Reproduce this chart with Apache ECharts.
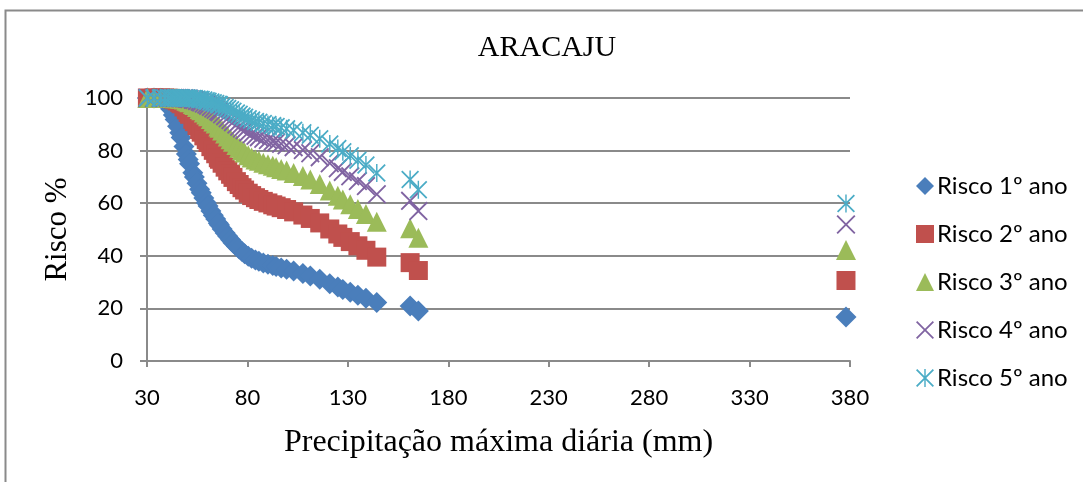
<!DOCTYPE html>
<html>
<head>
<meta charset="utf-8">
<script src="https://cdn.jsdelivr.net/npm/echarts@6/dist/echarts.min.js"></script>
<style>
  html, body { margin: 0; padding: 0; background: #fff; }
  #chart { width: 1083px; height: 482px; }
</style>
</head>
<body>
<div id="chart"></div>
<script>
// Maximum daily precipitation (mm) and the associated risk (%) for 1 to 5 years
const precip = [30.2, 33.5, 36.8, 38.9, 40.6, 41.8, 43.1, 44.0, 45.2, 46.3, 47.0, 48.4, 49.6, 50.5, 51.2, 52.8, 53.6, 54.9, 56.2, 57.0,
  58.3, 59.5, 60.4, 61.8, 63.0, 64.2, 65.5, 66.1, 67.4, 68.9, 70.2, 71.6, 72.8, 74.5, 75.9, 77.3, 78.6, 80.4, 82.1, 84.0,
  85.7, 87.9, 90.2, 92.6, 94.3, 96.8, 99.5, 103.0, 107.6, 111.3, 116.0, 121.0, 125.0, 127.5, 131.2, 135.0, 139.0, 144.4, 161.0, 165.1, 378.0];

const risco1 = [100, 100, 99.9, 99.4, 97.5, 95.8, 93.5, 91.8, 89.3, 86.8, 85.0, 81.6, 78.7, 76.6, 75.0, 71.6, 70.0, 67.6, 65.3, 64.0,
  62.0, 60.2, 58.9, 57.0, 55.4, 54.0, 52.4, 51.7, 50.2, 48.7, 47.4, 46.1, 45.0, 43.6, 42.6, 41.6, 40.8, 39.8, 39.1, 38.4,
  37.9, 37.3, 36.8, 36.3, 35.9, 35.4, 34.9, 34.2, 33.3, 32.3, 31.1, 29.4, 28.1, 27.2, 26.1, 25.0, 23.9, 22.2, 20.9, 19.0, 16.7];

const risco2 = [100, 100, 100, 100, 99.9, 99.8, 99.6, 99.3, 98.9, 98.3, 97.8, 96.6, 95.5, 94.5, 93.8, 91.9, 91.0, 89.5, 88.0, 87.0,
  85.6, 84.2, 83.1, 81.5, 80.1, 78.8, 77.3, 76.7, 75.2, 73.7, 72.3, 71.0, 69.8, 68.2, 67.1, 65.9, 65.0, 63.8, 62.9, 62.1,
  61.4, 60.7, 60.1, 59.4, 58.9, 58.3, 57.6, 56.7, 55.5, 54.2, 52.5, 50.2, 48.3, 47.0, 45.4, 43.8, 42.1, 39.5, 37.4, 34.4, 30.6];

const risco3 = [100, 100, 100, 100, 100, 100, 100, 99.9, 99.9, 99.8, 99.7, 99.4, 99.0, 98.7, 98.4, 97.7, 97.3, 96.6, 95.8, 95.3,
  94.5, 93.7, 93.1, 92.0, 91.1, 90.3, 89.2, 88.7, 87.6, 86.5, 85.4, 84.3, 83.4, 82.1, 81.1, 80.1, 79.3, 78.2, 77.4, 76.6,
  76.1, 75.4, 74.8, 74.2, 73.7, 73.0, 72.4, 71.5, 70.3, 69.0, 67.3, 64.8, 62.8, 61.4, 59.6, 57.8, 55.9, 52.9, 50.5, 46.9, 42.2];

const risco4 = [100, 100, 100, 100, 100, 100, 100, 100, 100, 100, 99.9, 99.9, 99.8, 99.7, 99.6, 99.3, 99.2, 98.9, 98.6, 98.3,
  97.9, 97.5, 97.1, 96.6, 96.0, 95.5, 94.9, 94.6, 93.8, 93.1, 92.3, 91.6, 90.8, 89.9, 89.1, 88.4, 87.7, 86.9, 86.2, 85.6,
  85.1, 84.5, 84.0, 83.5, 83.1, 82.6, 82.0, 81.3, 80.2, 79.0, 77.5, 75.2, 73.3, 71.9, 70.2, 68.4, 66.5, 63.4, 60.9, 57.0, 51.9];

const risco5 = [100, 100, 100, 100, 100, 100, 100, 100, 100, 100, 100, 100, 100, 99.9, 99.9, 99.8, 99.8, 99.6, 99.5, 99.4,
  99.2, 99.0, 98.8, 98.5, 98.2, 97.9, 97.6, 97.4, 96.9, 96.4, 96.0, 95.5, 95.0, 94.3, 93.8, 93.2, 92.7, 92.1, 91.6, 91.1,
  90.8, 90.3, 89.9, 89.5, 89.2, 88.7, 88.3, 87.7, 86.8, 85.8, 84.5, 82.5, 80.8, 79.6, 78.0, 76.3, 74.5, 71.5, 69.0, 65.1, 59.9];

const seriesNames = ['Risco 1º ano', 'Risco 2º ano', 'Risco 3º ano', 'Risco 4º ano', 'Risco 5º ano'];

// Marker shapes: thin X, and X with a vertical bar (star)
const crossPath = 'path://M1.4,0 L10,8.6 L18.6,0 L20,1.4 L11.4,10 L20,18.6 L18.6,20 L10,11.4 L1.4,20 L0,18.6 L8.6,10 L0,1.4 Z';
const starPath = 'path://M1.4,0 L10,8.6 L18.6,0 L20,1.4 L11.4,10 L20,18.6 L18.6,20 L10,11.4 L1.4,20 L0,18.6 L8.6,10 L0,1.4 Z M9.2,0 L10.8,0 L10.8,20 L9.2,20 Z';

const styles = [
  { symbol: 'diamond', size: 21, color: '#4A7EBB' },
  { symbol: 'rect', size: 19, color: '#C0504D' },
  { symbol: 'triangle', size: 20, color: '#9BBB59' },
  { symbol: crossPath, size: 19, color: '#8064A2' },
  { symbol: starPath, size: 18, color: '#4BACC6' }
];

const values = [risco1, risco2, risco3, risco4, risco5];

const chart = echarts.init(document.getElementById('chart'), null, { renderer: 'canvas' });

const tickFont = 'Lato, "Liberation Sans", sans-serif';
const serifFont = '"Liberation Serif", "DejaVu Serif", serif';

chart.setOption({
  animation: false,
  backgroundColor: '#ffffff',
  graphic: [
    {
      type: 'rect',
      left: 3, top: 8,
      shape: { width: 1200, height: 600 },
      style: { fill: 'none', stroke: '#8a8a8a', lineWidth: 2 },
      silent: true
    },
    {
      type: 'text',
      x: 547, y: 48,
      style: {
        text: 'ARACAJU', font: '30px ' + serifFont, fill: '#000',
        textAlign: 'center', textVerticalAlign: 'middle'
      },
      silent: true
    }
  ],
  grid: { left: 147, right: 233, top: 98, bottom: 121, containLabel: false },
  legend: {
    orient: 'vertical',
    left: 911, top: 168,
    itemWidth: 18, itemHeight: 18,
    itemGap: 22,
    textStyle: { fontFamily: tickFont, fontSize: 24, color: '#000', lineHeight: 26, padding: [0, 0, 0, -2] },
    data: seriesNames
  },
  xAxis: {
    type: 'value',
    min: 30, max: 380, interval: 50,
    name: 'Precipitação máxima diária (mm)',
    nameLocation: 'middle',
    nameGap: 66,
    nameTextStyle: { fontFamily: serifFont, fontSize: 32, color: '#000' },
    axisLine: { show: true, lineStyle: { color: '#8a8a8a', width: 2 } },
    axisTick: { show: true, inside: false, length: 6, lineStyle: { color: '#8a8a8a', width: 2 } },
    axisLabel: { show: true, margin: 26, fontFamily: tickFont, fontSize: 22, color: '#000' },
    splitLine: { show: false }
  },
  yAxis: {
    type: 'value',
    min: 0, max: 100, interval: 20,
    name: 'Risco %',
    nameLocation: 'middle',
    nameGap: 73,
    nameRotate: 90,
    nameTextStyle: { fontFamily: serifFont, fontSize: 31, color: '#000' },
    axisLine: { show: true, lineStyle: { color: '#8a8a8a', width: 2 } },
    axisTick: { show: true, inside: false, length: 7, lineStyle: { color: '#8a8a8a', width: 2 } },
    axisLabel: { show: true, margin: 24, fontFamily: tickFont, fontSize: 22, color: '#000' },
    splitLine: { show: true, lineStyle: { color: '#8a8a8a', width: 2 } }
  },
  series: values.map((vals, s) => ({
    name: seriesNames[s],
    type: 'scatter',
    symbol: styles[s].symbol,
    symbolSize: styles[s].size,
    itemStyle: { color: styles[s].color, opacity: 1 },
    emphasis: { disabled: true },
    data: precip.map((x, i) => [x, vals[i]])
  }))
});
</script>
</body>
</html>
